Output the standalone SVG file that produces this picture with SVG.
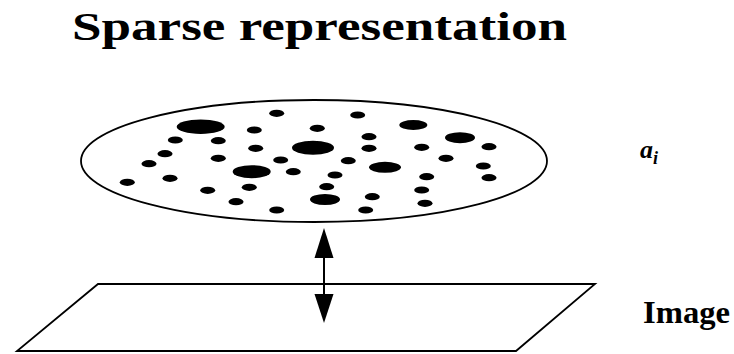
<svg xmlns="http://www.w3.org/2000/svg" width="734" height="354" viewBox="0 0 734 354">
<style>
.t{font-family:"Liberation Serif","Times New Roman",serif;font-weight:bold;fill:#000}
.ol{fill:#fff;stroke:#000;stroke-width:1.8}
.d{fill:#000}
</style>
<defs>
<ellipse id="s" rx="7.5" ry="3.6"/>
</defs>
<rect width="734" height="354" fill="#fff"/>
<text id="title" class="t" x="72" y="39.5" font-size="40" textLength="495" lengthAdjust="spacingAndGlyphs">Sparse representation</text>
<g id="sparse">
<ellipse class="ol" cx="314" cy="161" rx="233" ry="61"/>
<g class="d">
<ellipse cx="200.7" cy="126.7" rx="24" ry="7.2"/>
<ellipse cx="313" cy="147.7" rx="21" ry="7"/>
<ellipse cx="251.7" cy="171.7" rx="19" ry="6.5"/>
<ellipse cx="325" cy="199.5" rx="15" ry="5.5"/>
<ellipse cx="413.3" cy="125" rx="14" ry="5"/>
<ellipse cx="460" cy="137.7" rx="15" ry="5.5"/>
<ellipse cx="385" cy="167.3" rx="16" ry="5.5"/>
<use href="#s" x="276.7" y="113.3"/>
<use href="#s" x="254.3" y="130"/>
<use href="#s" x="317.3" y="128.3"/>
<use href="#s" x="175.3" y="140"/>
<use href="#s" x="218.3" y="140.7"/>
<use href="#s" x="255.7" y="148.3"/>
<use href="#s" x="165" y="153.7"/>
<use href="#s" x="218.3" y="158.3"/>
<use href="#s" x="280.7" y="160"/>
<use href="#s" x="149" y="163.7"/>
<use href="#s" x="293.3" y="171.7"/>
<use href="#s" x="170" y="178.3"/>
<use href="#s" x="127.3" y="182.3"/>
<use href="#s" x="249.3" y="187.3"/>
<use href="#s" x="207.7" y="190.3"/>
<use href="#s" x="236" y="201.7"/>
<use href="#s" x="276.7" y="210"/>
<use href="#s" x="357.7" y="115"/>
<use href="#s" x="369" y="136.7"/>
<use href="#s" x="369" y="148.3"/>
<use href="#s" x="421.7" y="147.3"/>
<use href="#s" x="489" y="146.7"/>
<use href="#s" x="348.3" y="160.7"/>
<use href="#s" x="446" y="158.3"/>
<use href="#s" x="483.3" y="166"/>
<use href="#s" x="335" y="175"/>
<use href="#s" x="426.7" y="176.7"/>
<use href="#s" x="489" y="177.7"/>
<use href="#s" x="326.7" y="186.7"/>
<use href="#s" x="421.7" y="190"/>
<use href="#s" x="372.3" y="196.7"/>
<use href="#s" x="425" y="203.3"/>
<use href="#s" x="365.7" y="210"/>
</g>
<text id="label-a" class="t" x="640" y="158" font-size="26" font-style="italic">a<tspan font-size="18" dy="6">i</tspan></text>
</g>
<g id="image">
<polygon class="ol" points="98,284 595,284 516,351 17,351"/>
<text class="t" x="643" y="322.5" font-size="31" textLength="87" lengthAdjust="spacingAndGlyphs">Image</text>
</g>
<g id="connectors">
<line x1="324" y1="250" x2="324" y2="300" stroke="#000" stroke-width="2"/>
<polygon points="324,228 314.5,258 333.5,258" fill="#000"/>
<polygon points="324,323 314.5,294 333.5,294" fill="#000"/>
</g>
</svg>
